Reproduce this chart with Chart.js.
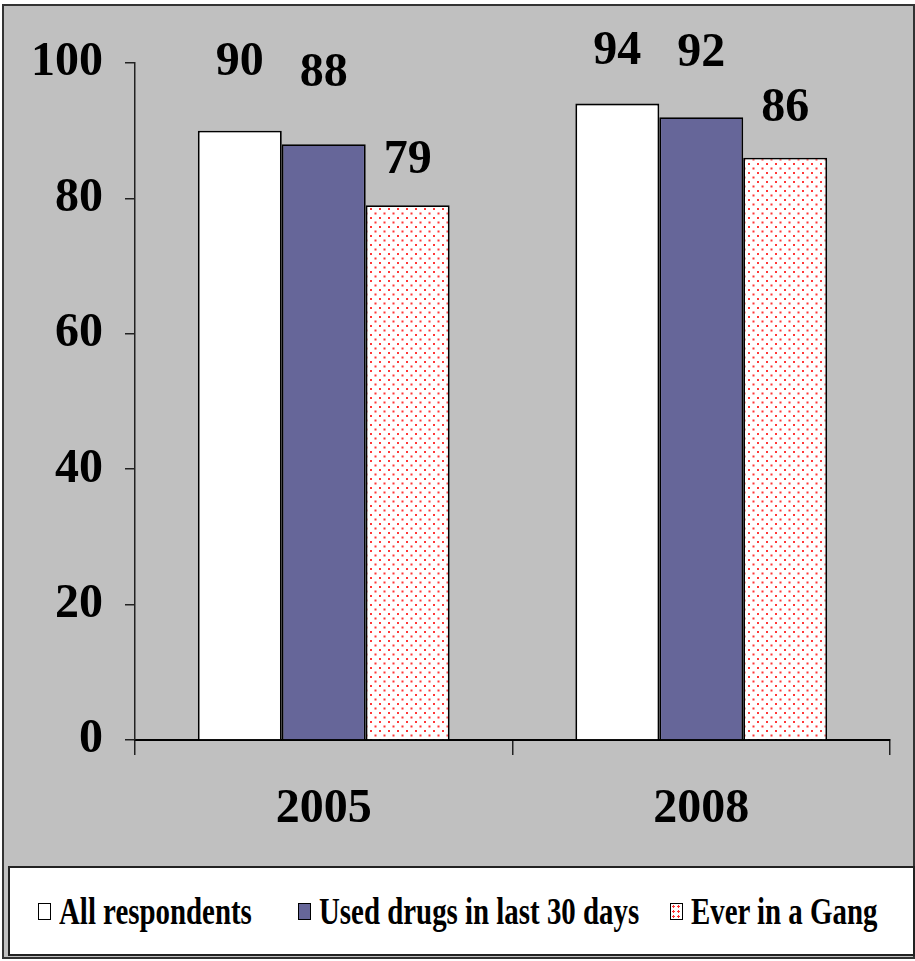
<!DOCTYPE html>
<html>
<head>
<meta charset="utf-8">
<script src="https://cdn.jsdelivr.net/npm/chart.js@4/dist/chart.umd.min.js"></script>
<style>
  body { margin: 0; background: #fff; }
  #frame {
    position: absolute; left: 2px; top: 4px; width: 909px; height: 951px;
    background: #c0c0c0; border: 2px solid #333;
  }
  #wrap { position: absolute; left: 0; top: 0; width: 915px; height: 860px; }
  #legend {
    position: absolute; left: 8px; top: 866px; width: 903px; height: 86px;
    background: #fff; border: 2px solid #222;
    font-family: "Liberation Serif", serif; font-weight: bold; font-size: 38px;
  }
  .item { position: absolute; top: 0; height: 86px; display: flex; align-items: center; white-space: nowrap; }
  .box { width: 11px; height: 15px; border: 1px solid #000; margin-right: 8px; }
  .lbl { display: inline-block; transform: scaleX(0.76); transform-origin: left center; }
</style>
</head>
<body>
<div id="frame"></div>
<div id="wrap"><canvas id="chart" width="915" height="860"></canvas></div>
<div id="legend"></div>
<script>
const years = ['2005', '2008'];
const seriesNames = ['All respondents', 'Used drugs in last 30 days', 'Ever in a Gang'];
const allRespondents = [90, 94];
const usedDrugs = [88, 92];
const everInGang = [79, 86];
const yTicks = [0, 20, 40, 60, 80, 100];

// dotted red fill for the gang series
function dotPattern() {
  const c = document.createElement('canvas');
  c.width = 9; c.height = 9;
  const g = c.getContext('2d');
  g.fillStyle = '#fff';
  g.fillRect(0, 0, 9, 9);
  g.fillStyle = 'rgba(255,20,20,0.85)';
  g.fillRect(1, 1, 2, 2);
  g.fillRect(5.5, 5.5, 2, 2);
  return g.createPattern(c, 'repeat');
}
const pink = dotPattern();

const fills = ['#ffffff', '#666699', pink];
const legendX = [28, 288, 660];

// value labels, lifted a little differently per bar
const lifts = [[68, 52], [71, 64], [45, 49]];
const valueLabels = {
  id: 'valueLabels',
  afterDatasetsDraw(chart) {
    const ctx = chart.ctx;
    ctx.save();
    ctx.font = 'bold 48px "Liberation Serif"';
    ctx.fillStyle = '#000';
    ctx.textAlign = 'center';
    ctx.textBaseline = 'middle';
    chart.data.datasets.forEach((ds, i) => {
      chart.getDatasetMeta(i).data.forEach((bar, j) => {
        ctx.fillText(String(ds.data[j]), bar.x, bar.y - lifts[i][j]);
      });
    });
    ctx.restore();
  }
};

const tickFont = { family: '"Liberation Serif"', size: 48, weight: 'bold' };

new Chart(document.getElementById('chart'), {
  type: 'bar',
  data: {
    labels: years,
    datasets: [allRespondents, usedDrugs, everInGang].map((d, i) => ({
      label: seriesNames[i],
      data: d,
      backgroundColor: fills[i],
      borderColor: '#000',
      borderWidth: 1.8,
      borderSkipped: 'bottom',
      categoryPercentage: 0.667,
      barPercentage: 1
    }))
  },
  options: {
    responsive: false,
    animation: false,
    layout: { padding: { top: 63, right: 25, left: 0, bottom: 0 } },
    plugins: { legend: { display: false }, tooltip: { enabled: false } },
    scales: {
      x: {
        afterFit(s) { s.height = 120; },
        grid: { drawOnChartArea: false, offset: true, tickLength: 15, color: '#222', lineWidth: 1.5 },
        border: { color: '#000', width: 2 },
        ticks: { font: tickFont, color: '#000', padding: 26 }
      },
      y: {
        min: 0, max: 100,
        afterFit(s) { s.width = 135; },
        afterBuildTicks(s) { s.ticks = yTicks.map(v => ({ value: v })); },
        grid: { drawOnChartArea: false, tickLength: 10, color: '#222', lineWidth: 1.5 },
        border: { color: '#222', width: 1.5 },
        ticks: { font: tickFont, color: '#000', padding: 22 }
      }
    }
  },
  plugins: [valueLabels]
});

const legend = document.getElementById('legend');
seriesNames.forEach((name, i) => {
  const item = document.createElement('div');
  item.className = 'item';
  item.style.left = legendX[i] + 'px';
  const box = document.createElement('span');
  box.className = 'box';
  if (i === 2) {
    box.style.background = 'radial-gradient(circle, #f33 30%, transparent 40%) 0 0/5px 5px, #fff';
  } else {
    box.style.background = fills[i];
  }
  const lbl = document.createElement('span');
  lbl.className = 'lbl';
  lbl.textContent = name;
  item.appendChild(box);
  item.appendChild(lbl);
  legend.appendChild(item);
});
</script>
</body>
</html>
